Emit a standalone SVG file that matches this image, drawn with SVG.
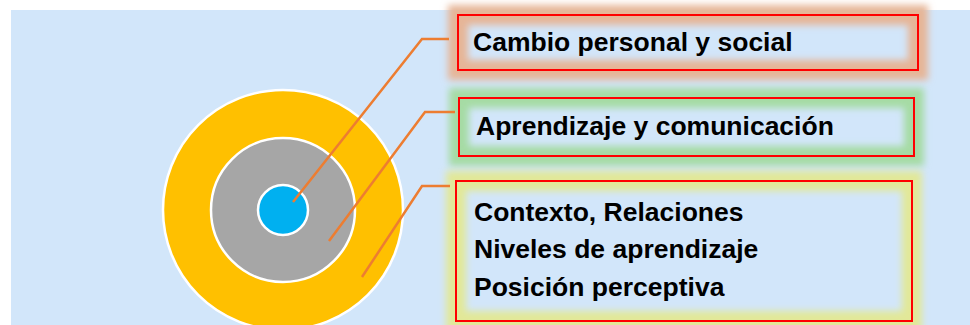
<svg xmlns="http://www.w3.org/2000/svg" width="970" height="325" viewBox="0 0 970 325">
  <defs>
    <filter id="glow" x="-10%" y="-40%" width="120%" height="180%">
      <feGaussianBlur stdDeviation="3.5"/>
    </filter>
  </defs>
  <style>
    .bg { fill: #D2E6FA; }
    .ring { stroke: #FFFFFF; stroke-width: 2.5; }
    .conn { fill: none; stroke: #ED7D31; stroke-width: 2.5; stroke-linejoin: miter; }
    .box { fill: none; stroke: #FF0000; stroke-width: 2; }
    .glow { fill: none; stroke-width: 20; filter: url(#glow); }
    .lbl { font-family: "Liberation Sans", Arial, sans-serif; font-weight: bold; font-size: 26.5px; fill: #000000; }
  </style>
  <rect x="0" y="0" width="970" height="325" fill="#FFFFFF"/>
  <rect class="bg" x="11" y="10" width="959" height="315"/>

  <g id="rings">
    <circle class="ring" cx="283" cy="210" r="120" fill="#FFC000"/>
    <circle class="ring" cx="283" cy="210" r="72" fill="#A6A6A6"/>
    <circle class="ring" cx="283" cy="210" r="25" fill="#00B0F0"/>
  </g>

  <g id="node-cambio">
    <rect class="glow" x="458" y="15" width="460" height="55" stroke="#E6B597"/>
    <rect class="box" x="458" y="15" width="460" height="55"/>
    <text class="lbl" x="473" y="51">Cambio personal y social</text>
  </g>

  <g id="node-aprendizaje">
    <rect class="glow" x="459" y="98" width="455" height="58" stroke="#A6DBA4"/>
    <rect class="box" x="459" y="98" width="455" height="58"/>
    <text class="lbl" x="476" y="135">Aprendizaje y comunicación</text>
  </g>

  <g id="node-contexto">
    <rect class="glow" x="456" y="181" width="456" height="140" stroke="#E2E898"/>
    <rect class="box" x="456" y="181" width="456" height="140"/>
    <text class="lbl" x="474" y="221">Contexto, Relaciones</text>
    <text class="lbl" x="474" y="258">Niveles de aprendizaje</text>
    <text class="lbl" x="474" y="296">Posición perceptiva</text>
  </g>

  <g id="connectors">
    <polyline class="conn" points="293,202 422,39 449,39"/>
    <polyline class="conn" points="329,241 425,112 455,112"/>
    <polyline class="conn" points="362,277 422,186 450,186"/>
  </g>
</svg>
